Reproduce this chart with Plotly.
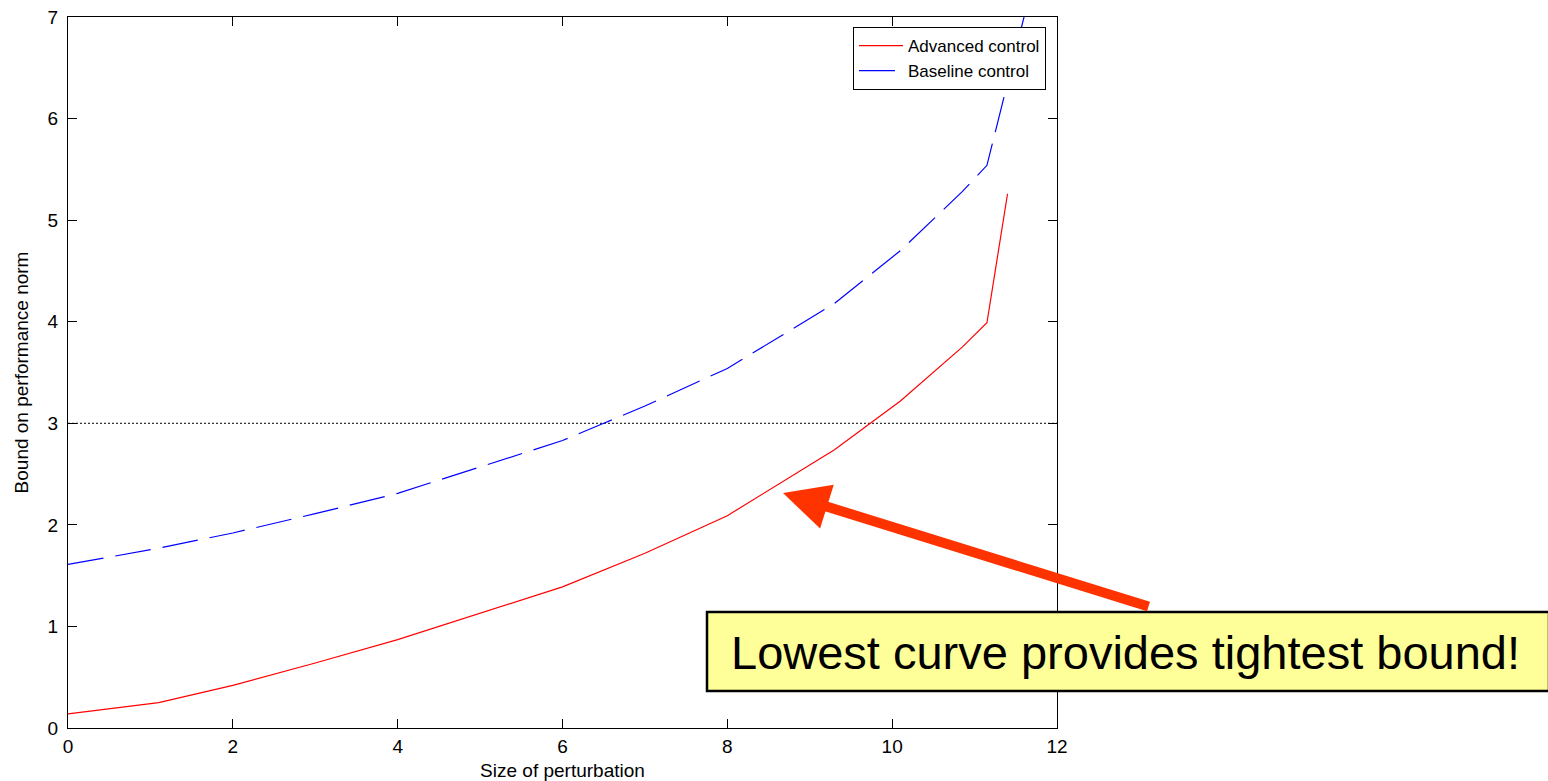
import plotly.graph_objects as go

# ---- data ----
x_adv = [0, 1.1, 2, 3, 4, 5, 6, 7, 8, 9.3, 10.1, 10.85, 11.15, 11.40]
y_adv = [0.14, 0.25, 0.42, 0.64, 0.87, 1.13, 1.39, 1.72, 2.09, 2.74, 3.22, 3.75, 3.99, 5.26]

x_base = [0, 1.1, 2, 3, 4, 5, 6, 6.5, 7, 8, 9.3, 10.1, 10.85, 11.15, 11.6]
y_base = [1.61, 1.77, 1.92, 2.11, 2.31, 2.57, 2.83, 3.0, 3.17, 3.54, 4.18, 4.70, 5.28, 5.54, 7.0]

threshold_x = [0, 12]
threshold_y = [3, 3]

x_ticks = [0, 2, 4, 6, 8, 10, 12]
y_ticks = [0, 1, 2, 3, 4, 5, 6, 7]

FONT = "Liberation Sans, Arial, sans-serif"
FS = 19

fig = go.Figure()
fig.add_trace(go.Scatter(x=threshold_x, y=threshold_y, mode="lines",
                         line=dict(color="black", width=1, dash="2px,2px"),
                         showlegend=False, hoverinfo="skip"))
fig.add_trace(go.Scatter(x=x_adv, y=y_adv, mode="lines", name="Advanced control",
                         line=dict(color="#FF0000", width=1.2)))
fig.add_trace(go.Scatter(x=x_base, y=y_base, mode="lines", name="Baseline control",
                         line=dict(color="#0000FF", width=1.2, dash="36px,12px")))

L, R, T, B = 68, 491, 17, 53
W, H = 1548, 781
pw, ph = W - L - R, H - T - B

def px(xp):
    return (xp - L) / pw

def py(yp):
    return (H - B - yp) / ph

axis_common = dict(showgrid=False, zeroline=False, showline=True, linecolor="black",
                   linewidth=1, mirror="ticks", ticks="inside", ticklen=9, automargin=False,
                   tickcolor="black", tickfont=dict(family=FONT, size=FS, color="black"))

fig.update_xaxes(range=[0, 12], tickvals=x_ticks, ticktext=[str(v) for v in x_ticks],
                 title=dict(text="Size of perturbation", font=dict(family=FONT, size=FS, color="black"),
                            standoff=12),
                 ticklabelstandoff=1, **axis_common)
fig.update_yaxes(range=[0, 7], tickvals=y_ticks, ticktext=[str(v) for v in y_ticks],
                 title=dict(text="Bound on performance norm", font=dict(family=FONT, size=FS, color="black"),
                            standoff=13),
                 ticklabelstandoff=5, **axis_common)

fig.update_layout(
    width=W, height=H,
    margin=dict(l=L, r=R, t=T, b=B, pad=0, autoexpand=False),
    paper_bgcolor="white", plot_bgcolor="white",
    font=dict(family=FONT, size=FS, color="black"),
    legend=dict(x=px(1046), y=py(27), xanchor="right", yanchor="top",
                bgcolor="white", bordercolor="black", borderwidth=1,
                itemwidth=44,
                font=dict(family=FONT, size=17, color="black")),
    shapes=[dict(type="rect", xref="paper", yref="paper",
                 x0=px(707), x1=px(1549), y0=py(691), y1=py(612),
                 fillcolor="#FFFF99", line=dict(color="black", width=2.5), layer="above")],
    annotations=[
        dict(xref="paper", yref="paper", x=px(783), y=py(493), text="", showarrow=True,
             axref="pixel", ayref="pixel", ax=367, ay=114,
             arrowhead=2, arrowsize=0.92, arrowwidth=10, arrowcolor="#FF3300"),
        dict(xref="paper", yref="paper", x=px(729), y=py(652), xanchor="left", yanchor="middle",
             text="Lowest curve provides tightest bound!", showarrow=False,
             font=dict(family=FONT, size=47, color="black")),
    ],
)

fig.write_html("out.html")
